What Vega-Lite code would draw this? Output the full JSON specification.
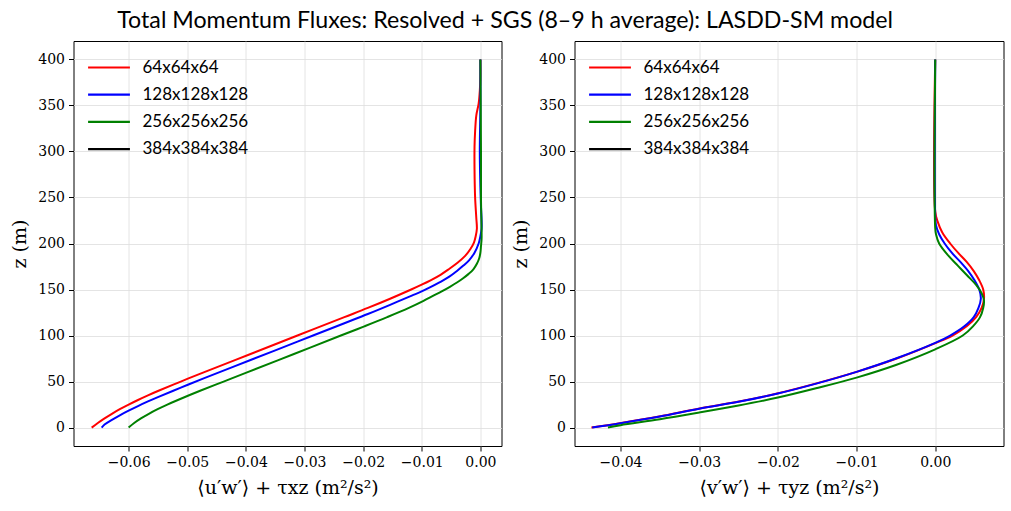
{
  "$schema": "https://vega.github.io/schema/vega-lite/v6.json",
  "padding": {"left": 9.5, "top": 9, "right": 8, "bottom": 6},
  "background": "white",
  "title": {"text": "Total Momentum Fluxes: Resolved + SGS (8–9 h average): LASDD-SM model", "font": "Lato", "fontSize": 23.2, "fontWeight": "normal", "color": "black", "anchor": "middle", "frame": "bounds", "offset": 7, "dx": -2},
  "config": {
    "view": {"stroke": "black", "strokeWidth": 1},
    "axis": {"domain": false, "grid": true, "gridColor": "#dddddd", "gridWidth": 0.8, "tickColor": "black", "tickSize": 5, "tickWidth": 1, "labelPadding": 4, "labelFont": "DejaVu Serif", "labelFontSize": 14, "labelColor": "black", "titleFont": "DejaVu Serif", "titleFontSize": 19, "titleFontWeight": "normal", "titleColor": "black"},
    "legend": {"labelFont": "Lato", "labelFontSize": 17, "labelColor": "black", "orient": "none", "legendX": 27, "legendY": 18, "padding": 0, "symbolType": "M-5,0H5", "symbolSize": 70, "symbolStrokeWidth": 2.2, "labelOffset": 25, "rowPadding": 9.2, "title": null}
  },
  "spacing": 8,
  "resolve": {"legend": {"color": "independent"}},
  "datasets": {
    "flux": [
      {"panel": "xz", "res": "64x64x64", "z": 0, "x": -0.0663},
      {"panel": "xz", "res": "64x64x64", "z": 5, "x": -0.06525},
      {"panel": "xz", "res": "64x64x64", "z": 10, "x": -0.0641},
      {"panel": "xz", "res": "64x64x64", "z": 15, "x": -0.06285},
      {"panel": "xz", "res": "64x64x64", "z": 20, "x": -0.0615},
      {"panel": "xz", "res": "64x64x64", "z": 25, "x": -0.0600},
      {"panel": "xz", "res": "64x64x64", "z": 30, "x": -0.0584},
      {"panel": "xz", "res": "64x64x64", "z": 35, "x": -0.0567},
      {"panel": "xz", "res": "64x64x64", "z": 40, "x": -0.0549},
      {"panel": "xz", "res": "64x64x64", "z": 50, "x": -0.0511},
      {"panel": "xz", "res": "64x64x64", "z": 60, "x": -0.0472},
      {"panel": "xz", "res": "64x64x64", "z": 80, "x": -0.0392},
      {"panel": "xz", "res": "64x64x64", "z": 100, "x": -0.0312},
      {"panel": "xz", "res": "64x64x64", "z": 120, "x": -0.0232},
      {"panel": "xz", "res": "64x64x64", "z": 130, "x": -0.0192},
      {"panel": "xz", "res": "64x64x64", "z": 140, "x": -0.0154},
      {"panel": "xz", "res": "64x64x64", "z": 150, "x": -0.0118},
      {"panel": "xz", "res": "64x64x64", "z": 155, "x": -0.0101},
      {"panel": "xz", "res": "64x64x64", "z": 160, "x": -0.0085},
      {"panel": "xz", "res": "64x64x64", "z": 166, "x": -0.0068},
      {"panel": "xz", "res": "64x64x64", "z": 172, "x": -0.0054},
      {"panel": "xz", "res": "64x64x64", "z": 179, "x": -0.0039},
      {"panel": "xz", "res": "64x64x64", "z": 186.5, "x": -0.0026},
      {"panel": "xz", "res": "64x64x64", "z": 194, "x": -0.0017},
      {"panel": "xz", "res": "64x64x64", "z": 201, "x": -0.0011},
      {"panel": "xz", "res": "64x64x64", "z": 208, "x": -0.0008},
      {"panel": "xz", "res": "64x64x64", "z": 216, "x": -0.0006},
      {"panel": "xz", "res": "64x64x64", "z": 228, "x": -0.0007},
      {"panel": "xz", "res": "64x64x64", "z": 250, "x": -0.0009},
      {"panel": "xz", "res": "64x64x64", "z": 280, "x": -0.0010},
      {"panel": "xz", "res": "64x64x64", "z": 305, "x": -0.0010},
      {"panel": "xz", "res": "64x64x64", "z": 322, "x": -0.0009},
      {"panel": "xz", "res": "64x64x64", "z": 339, "x": -0.0007},
      {"panel": "xz", "res": "64x64x64", "z": 352, "x": -0.0003},
      {"panel": "xz", "res": "64x64x64", "z": 366, "x": -0.0001},
      {"panel": "xz", "res": "64x64x64", "z": 382, "x": 0.0},
      {"panel": "xz", "res": "64x64x64", "z": 400, "x": 0.0},
      {"panel": "xz", "res": "128x128x128", "z": 0, "x": -0.0646},
      {"panel": "xz", "res": "128x128x128", "z": 3.4, "x": -0.0641},
      {"panel": "xz", "res": "128x128x128", "z": 8.4, "x": -0.06285},
      {"panel": "xz", "res": "128x128x128", "z": 13.4, "x": -0.0615},
      {"panel": "xz", "res": "128x128x128", "z": 18.4, "x": -0.0600},
      {"panel": "xz", "res": "128x128x128", "z": 23.4, "x": -0.0584},
      {"panel": "xz", "res": "128x128x128", "z": 28.4, "x": -0.0567},
      {"panel": "xz", "res": "128x128x128", "z": 33.4, "x": -0.0549},
      {"panel": "xz", "res": "128x128x128", "z": 43.4, "x": -0.0511},
      {"panel": "xz", "res": "128x128x128", "z": 53.4, "x": -0.0472},
      {"panel": "xz", "res": "128x128x128", "z": 73.4, "x": -0.0392},
      {"panel": "xz", "res": "128x128x128", "z": 93.4, "x": -0.0312},
      {"panel": "xz", "res": "128x128x128", "z": 113.4, "x": -0.0232},
      {"panel": "xz", "res": "128x128x128", "z": 123.4, "x": -0.0192},
      {"panel": "xz", "res": "128x128x128", "z": 133.4, "x": -0.0154},
      {"panel": "xz", "res": "128x128x128", "z": 143.4, "x": -0.0117},
      {"panel": "xz", "res": "128x128x128", "z": 147.4, "x": -0.0102},
      {"panel": "xz", "res": "128x128x128", "z": 152, "x": -0.0087},
      {"panel": "xz", "res": "128x128x128", "z": 158, "x": -0.0069},
      {"panel": "xz", "res": "128x128x128", "z": 164, "x": -0.0053},
      {"panel": "xz", "res": "128x128x128", "z": 170.2, "x": -0.0040},
      {"panel": "xz", "res": "128x128x128", "z": 176, "x": -0.0029},
      {"panel": "xz", "res": "128x128x128", "z": 182, "x": -0.0019},
      {"panel": "xz", "res": "128x128x128", "z": 190, "x": -0.0010},
      {"panel": "xz", "res": "128x128x128", "z": 200, "x": -0.0003},
      {"panel": "xz", "res": "128x128x128", "z": 208, "x": 0.0},
      {"panel": "xz", "res": "128x128x128", "z": 216, "x": 0.0002},
      {"panel": "xz", "res": "128x128x128", "z": 226, "x": 0.0002},
      {"panel": "xz", "res": "128x128x128", "z": 240, "x": 0.0001},
      {"panel": "xz", "res": "128x128x128", "z": 262, "x": 0.0},
      {"panel": "xz", "res": "128x128x128", "z": 300, "x": -0.0001},
      {"panel": "xz", "res": "128x128x128", "z": 350, "x": 0.0},
      {"panel": "xz", "res": "128x128x128", "z": 400, "x": 0.0},
      {"panel": "xz", "res": "256x256x256", "z": 0, "x": -0.0600},
      {"panel": "xz", "res": "256x256x256", "z": 5, "x": -0.05905},
      {"panel": "xz", "res": "256x256x256", "z": 10, "x": -0.0579},
      {"panel": "xz", "res": "256x256x256", "z": 15, "x": -0.05655},
      {"panel": "xz", "res": "256x256x256", "z": 20, "x": -0.05505},
      {"panel": "xz", "res": "256x256x256", "z": 25, "x": -0.0534},
      {"panel": "xz", "res": "256x256x256", "z": 30, "x": -0.0516},
      {"panel": "xz", "res": "256x256x256", "z": 40, "x": -0.0478},
      {"panel": "xz", "res": "256x256x256", "z": 50, "x": -0.0438},
      {"panel": "xz", "res": "256x256x256", "z": 60, "x": -0.0398},
      {"panel": "xz", "res": "256x256x256", "z": 80, "x": -0.0318},
      {"panel": "xz", "res": "256x256x256", "z": 100, "x": -0.0238},
      {"panel": "xz", "res": "256x256x256", "z": 110, "x": -0.0198},
      {"panel": "xz", "res": "256x256x256", "z": 120, "x": -0.0159},
      {"panel": "xz", "res": "256x256x256", "z": 130, "x": -0.0122},
      {"panel": "xz", "res": "256x256x256", "z": 137.6, "x": -0.0097},
      {"panel": "xz", "res": "256x256x256", "z": 143, "x": -0.0081},
      {"panel": "xz", "res": "256x256x256", "z": 148, "x": -0.0066},
      {"panel": "xz", "res": "256x256x256", "z": 153, "x": -0.0052},
      {"panel": "xz", "res": "256x256x256", "z": 157.6, "x": -0.0040},
      {"panel": "xz", "res": "256x256x256", "z": 162, "x": -0.0030},
      {"panel": "xz", "res": "256x256x256", "z": 167, "x": -0.0020},
      {"panel": "xz", "res": "256x256x256", "z": 172, "x": -0.0012},
      {"panel": "xz", "res": "256x256x256", "z": 178, "x": -0.0006},
      {"panel": "xz", "res": "256x256x256", "z": 184, "x": -0.0002},
      {"panel": "xz", "res": "256x256x256", "z": 190, "x": 0.0},
      {"panel": "xz", "res": "256x256x256", "z": 197, "x": 0.0001},
      {"panel": "xz", "res": "256x256x256", "z": 205, "x": 0.0002},
      {"panel": "xz", "res": "256x256x256", "z": 215, "x": 0.0002},
      {"panel": "xz", "res": "256x256x256", "z": 250, "x": 0.0001},
      {"panel": "xz", "res": "256x256x256", "z": 300, "x": 0.0001},
      {"panel": "xz", "res": "256x256x256", "z": 400, "x": 0.0},
      {"panel": "yz", "res": "64x64x64", "z": 0, "x": -0.0437},
      {"panel": "yz", "res": "64x64x64", "z": 4.7, "x": -0.0401},
      {"panel": "yz", "res": "64x64x64", "z": 12, "x": -0.0351},
      {"panel": "yz", "res": "64x64x64", "z": 20.5, "x": -0.0301},
      {"panel": "yz", "res": "64x64x64", "z": 28, "x": -0.0251},
      {"panel": "yz", "res": "64x64x64", "z": 37, "x": -0.0201},
      {"panel": "yz", "res": "64x64x64", "z": 48, "x": -0.0151},
      {"panel": "yz", "res": "64x64x64", "z": 60.5, "x": -0.0100},
      {"panel": "yz", "res": "64x64x64", "z": 75, "x": -0.0049},
      {"panel": "yz", "res": "64x64x64", "z": 92, "x": 0.0001},
      {"panel": "yz", "res": "64x64x64", "z": 100, "x": 0.0022},
      {"panel": "yz", "res": "64x64x64", "z": 110, "x": 0.0040},
      {"panel": "yz", "res": "64x64x64", "z": 120, "x": 0.0052},
      {"panel": "yz", "res": "64x64x64", "z": 130, "x": 0.0059},
      {"panel": "yz", "res": "64x64x64", "z": 140, "x": 0.0062},
      {"panel": "yz", "res": "64x64x64", "z": 150, "x": 0.0061},
      {"panel": "yz", "res": "64x64x64", "z": 160, "x": 0.0056},
      {"panel": "yz", "res": "64x64x64", "z": 170, "x": 0.0049},
      {"panel": "yz", "res": "64x64x64", "z": 180, "x": 0.0040},
      {"panel": "yz", "res": "64x64x64", "z": 190, "x": 0.0029},
      {"panel": "yz", "res": "64x64x64", "z": 200, "x": 0.0019},
      {"panel": "yz", "res": "64x64x64", "z": 212, "x": 0.0009},
      {"panel": "yz", "res": "64x64x64", "z": 224, "x": 0.0003},
      {"panel": "yz", "res": "64x64x64", "z": 235, "x": 0.0},
      {"panel": "yz", "res": "64x64x64", "z": 400, "x": 0.0},
      {"panel": "yz", "res": "128x128x128", "z": 0, "x": -0.0436},
      {"panel": "yz", "res": "128x128x128", "z": 4.7, "x": -0.0400},
      {"panel": "yz", "res": "128x128x128", "z": 12, "x": -0.0350},
      {"panel": "yz", "res": "128x128x128", "z": 20.5, "x": -0.0300},
      {"panel": "yz", "res": "128x128x128", "z": 28, "x": -0.0250},
      {"panel": "yz", "res": "128x128x128", "z": 37, "x": -0.0200},
      {"panel": "yz", "res": "128x128x128", "z": 48, "x": -0.0150},
      {"panel": "yz", "res": "128x128x128", "z": 60.5, "x": -0.0100},
      {"panel": "yz", "res": "128x128x128", "z": 75, "x": -0.0050},
      {"panel": "yz", "res": "128x128x128", "z": 92, "x": 0.0},
      {"panel": "yz", "res": "128x128x128", "z": 100, "x": 0.0019},
      {"panel": "yz", "res": "128x128x128", "z": 110, "x": 0.0037},
      {"panel": "yz", "res": "128x128x128", "z": 120, "x": 0.0049},
      {"panel": "yz", "res": "128x128x128", "z": 130, "x": 0.0055},
      {"panel": "yz", "res": "128x128x128", "z": 140, "x": 0.0058},
      {"panel": "yz", "res": "128x128x128", "z": 150, "x": 0.0056},
      {"panel": "yz", "res": "128x128x128", "z": 160, "x": 0.0050},
      {"panel": "yz", "res": "128x128x128", "z": 170, "x": 0.0042},
      {"panel": "yz", "res": "128x128x128", "z": 180, "x": 0.0032},
      {"panel": "yz", "res": "128x128x128", "z": 190, "x": 0.0021},
      {"panel": "yz", "res": "128x128x128", "z": 200, "x": 0.0012},
      {"panel": "yz", "res": "128x128x128", "z": 210, "x": 0.0005},
      {"panel": "yz", "res": "128x128x128", "z": 220, "x": 0.0001},
      {"panel": "yz", "res": "128x128x128", "z": 230, "x": 0.0},
      {"panel": "yz", "res": "128x128x128", "z": 400, "x": 0.0},
      {"panel": "yz", "res": "256x256x256", "z": 0, "x": -0.0416},
      {"panel": "yz", "res": "256x256x256", "z": 2.6, "x": -0.0400},
      {"panel": "yz", "res": "256x256x256", "z": 9, "x": -0.0350},
      {"panel": "yz", "res": "256x256x256", "z": 16.3, "x": -0.0300},
      {"panel": "yz", "res": "256x256x256", "z": 24, "x": -0.0250},
      {"panel": "yz", "res": "256x256x256", "z": 32.6, "x": -0.0200},
      {"panel": "yz", "res": "256x256x256", "z": 43, "x": -0.0150},
      {"panel": "yz", "res": "256x256x256", "z": 54.3, "x": -0.0100},
      {"panel": "yz", "res": "256x256x256", "z": 68, "x": -0.0050},
      {"panel": "yz", "res": "256x256x256", "z": 85, "x": 0.0},
      {"panel": "yz", "res": "256x256x256", "z": 100, "x": 0.0035},
      {"panel": "yz", "res": "256x256x256", "z": 110, "x": 0.0048},
      {"panel": "yz", "res": "256x256x256", "z": 120, "x": 0.0057},
      {"panel": "yz", "res": "256x256x256", "z": 130, "x": 0.0061},
      {"panel": "yz", "res": "256x256x256", "z": 138, "x": 0.0062},
      {"panel": "yz", "res": "256x256x256", "z": 146, "x": 0.0059},
      {"panel": "yz", "res": "256x256x256", "z": 155, "x": 0.0052},
      {"panel": "yz", "res": "256x256x256", "z": 165, "x": 0.0041},
      {"panel": "yz", "res": "256x256x256", "z": 175.7, "x": 0.0029},
      {"panel": "yz", "res": "256x256x256", "z": 186.5, "x": 0.0017},
      {"panel": "yz", "res": "256x256x256", "z": 200, "x": 0.0005},
      {"panel": "yz", "res": "256x256x256", "z": 210, "x": 0.0001},
      {"panel": "yz", "res": "256x256x256", "z": 217, "x": 0.0},
      {"panel": "yz", "res": "256x256x256", "z": 400, "x": 0.0}
    ]
  },
  "hconcat": [
    {
      "width": 428,
      "height": 405,
      "data": {"name": "flux"},
      "transform": [{"filter": "datum.panel === 'xz'"}],
      "mark": {"type": "line", "strokeWidth": 2, "interpolate": "catmull-rom"},
      "encoding": {
        "x": {"field": "x", "type": "quantitative", "scale": {"domain": [-0.0694, 0.0036], "nice": false, "zero": false}, "axis": {"values": [-0.06, -0.05, -0.04, -0.03, -0.02, -0.01, 0.0], "format": ".2f", "title": "⟨u′w′⟩ + τxz (m²/s²)", "titlePadding": 9}},
        "y": {"field": "z", "type": "quantitative", "scale": {"domain": [-20, 420], "nice": false, "zero": false}, "axis": {"values": [0, 50, 100, 150, 200, 250, 300, 350, 400], "title": "z (m)", "titlePadding": 8}},
        "order": {"field": "z", "type": "quantitative"},
        "color": {"field": "res", "type": "nominal", "scale": {"domain": ["64x64x64", "128x128x128", "256x256x256", "384x384x384"], "range": ["#ff0000", "#0000ff", "#008000", "#000000"]}, "legend": {"title": null}}
      }
    },
    {
      "width": 429,
      "height": 405,
      "data": {"name": "flux"},
      "transform": [{"filter": "datum.panel === 'yz'"}],
      "mark": {"type": "line", "strokeWidth": 2, "interpolate": "catmull-rom"},
      "encoding": {
        "x": {"field": "x", "type": "quantitative", "scale": {"domain": [-0.04585, 0.00868], "nice": false, "zero": false}, "axis": {"values": [-0.04, -0.03, -0.02, -0.01, 0.0], "format": ".2f", "title": "⟨v′w′⟩ + τyz (m²/s²)", "titlePadding": 9}},
        "y": {"field": "z", "type": "quantitative", "scale": {"domain": [-20, 420], "nice": false, "zero": false}, "axis": {"values": [0, 50, 100, 150, 200, 250, 300, 350, 400], "title": "z (m)", "titlePadding": 8}},
        "order": {"field": "z", "type": "quantitative"},
        "color": {"field": "res", "type": "nominal", "scale": {"domain": ["64x64x64", "128x128x128", "256x256x256", "384x384x384"], "range": ["#ff0000", "#0000ff", "#008000", "#000000"]}, "legend": {"title": null}}
      }
    }
  ]
}
